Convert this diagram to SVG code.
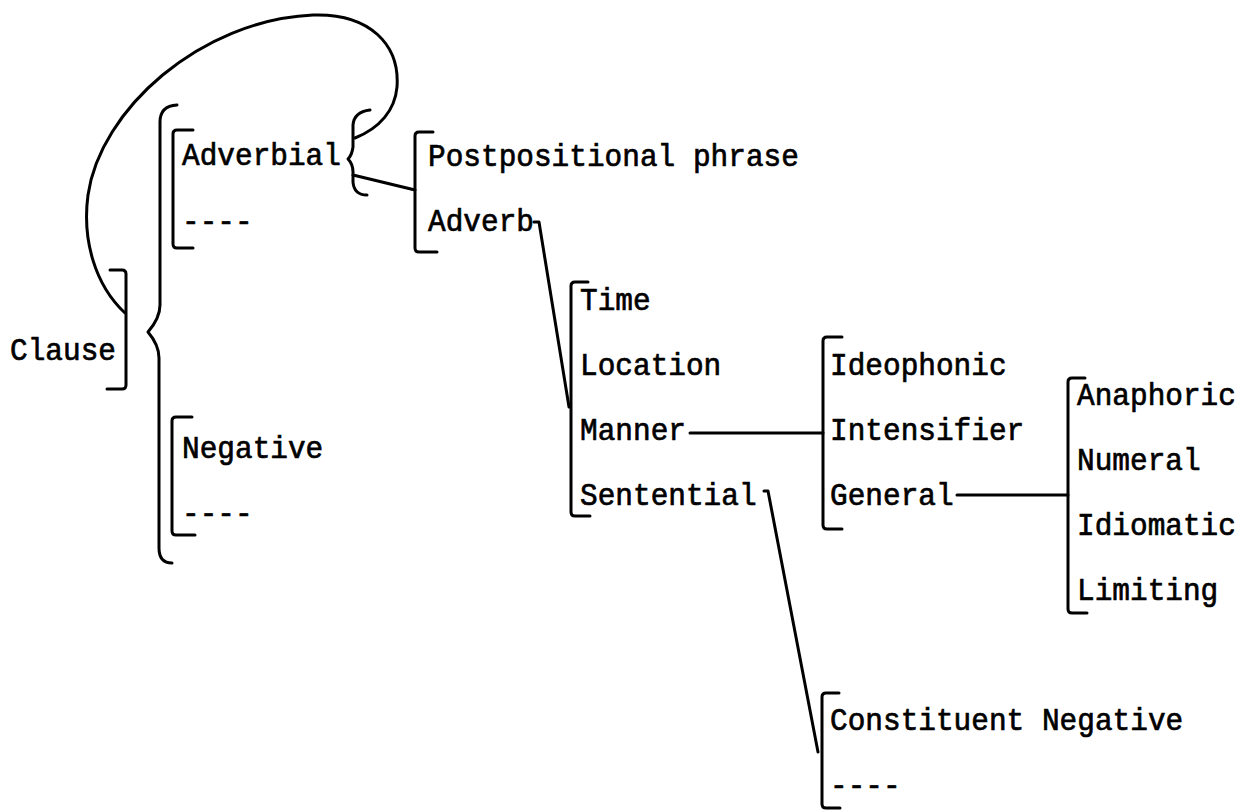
<svg xmlns="http://www.w3.org/2000/svg" width="1251" height="811" viewBox="0 0 1251 811">
  <style>
    /* monospaced typewriter-style labels, slightly narrowed to a 17.6px pitch */
    .t { font-family: "Liberation Mono", "DejaVu Sans Mono", monospace; font-size: 32px; fill: #000; stroke: #000; stroke-width: 0.7; stroke-linejoin: round; }
    .br { fill: none; stroke: #000; stroke-width: 3; stroke-linecap: round; stroke-linejoin: round; }
    .cn { fill: none; stroke: #000; stroke-width: 3; stroke-linecap: round; stroke-linejoin: round; }
  </style>
  <rect width="1251" height="811" fill="#fff"/>

  <!-- Clause -->
  <g id="clause">
    <text class="t" transform="translate(10 360) scale(0.92 1)">Clause</text>
    <path class="br" d="M110,270 L122,270 Q126,270 126,274 L126,385 Q126,389 122,389 L107,389"/>
  </g>

  <!-- Brace grouping the clause constituents -->
  <g id="clause-brace">
    <path class="br" d="M177,105 Q160,106 160,122 L160,305 Q160,318 148,332 Q159,345 159,358 L159,548 Q159,563 172,563"/>
  </g>

  <!-- Adverbial and its blank slot -->
  <g id="adverbial">
    <path class="br" d="M193,130 L177,130 Q173,130 173,134 L173,244 Q173,248 177,248 L193,248"/>
    <text class="t" transform="translate(182 165) scale(0.92 1)">Adverbial</text>
    <text class="t" transform="translate(182 231) scale(0.92 1)">----</text>
    <path class="br" d="M370,110 Q354,112 353,125 L353,147 Q352,155 348,159 Q353,164 353,172 L353,182 Q354,195 367,195"/>
  </g>

  <!-- Negative and its blank slot -->
  <g id="negative">
    <path class="br" d="M192,417 L176,417 Q172,417 172,421 L172,531 Q172,535 176,535 L195,535"/>
    <text class="t" transform="translate(182 458) scale(0.92 1)">Negative</text>
    <text class="t" transform="translate(182 523) scale(0.92 1)">----</text>
  </g>

  <!-- Postpositional phrase, Adverb -->
  <g id="adverbial-forms">
    <path class="br" d="M433,132 L419,132 Q415,132 415,136 L415,248 Q415,252 419,252 L437,252"/>
    <text class="t" transform="translate(428 166) scale(0.92 1)">Postpositional phrase</text>
    <text class="t" transform="translate(428 231) scale(0.92 1)">Adverb</text>
  </g>

  <!-- Adverb types -->
  <g id="adverb-types">
    <path class="br" d="M588,282 L575,282 Q571,282 571,286 L571,512 Q571,516 575,516 L590,516"/>
    <text class="t" transform="translate(580 310) scale(0.92 1)">Time</text>
    <text class="t" transform="translate(580 375) scale(0.92 1)">Location</text>
    <text class="t" transform="translate(580 440) scale(0.92 1)">Manner</text>
    <text class="t" transform="translate(580 505) scale(0.92 1)">Sentential</text>
  </g>

  <!-- Manner types -->
  <g id="manner-types">
    <path class="br" d="M842,337 L827,337 Q823,337 823,341 L823,525 Q823,529 827,529 L842,529"/>
    <text class="t" transform="translate(830 375) scale(0.92 1)">Ideophonic</text>
    <text class="t" transform="translate(830 440) scale(0.92 1)">Intensifier</text>
    <text class="t" transform="translate(830 505) scale(0.92 1)">General</text>
  </g>

  <!-- General types -->
  <g id="general-types">
    <path class="br" d="M1085,378 L1072,378 Q1068,378 1068,382 L1068,609 Q1068,613 1072,613 L1087,613"/>
    <text class="t" transform="translate(1077 405) scale(0.92 1)">Anaphoric</text>
    <text class="t" transform="translate(1077 470) scale(0.92 1)">Numeral</text>
    <text class="t" transform="translate(1077 535) scale(0.92 1)">Idiomatic</text>
    <text class="t" transform="translate(1077 600) scale(0.92 1)">Limiting</text>
  </g>

  <!-- Sentential types -->
  <g id="sentential-types">
    <path class="br" d="M839,693 L826,693 Q822,693 822,697 L822,804 Q822,808 826,808 L840,808"/>
    <text class="t" transform="translate(830 730) scale(0.92 1)">Constituent Negative</text>
    <text class="t" transform="translate(830 795) scale(0.92 1)">----</text>
  </g>

  <!-- Connectors -->
  <g id="connectors">
    <!-- loop from Clause back to the Adverbial brace -->
    <path class="cn" d="M125,313 C95,285 82,240 88,195 C100,110 200,20 313,15 C370,13 400,45 397,87 C395,110 380,128 355,138"/>
    <line class="cn" x1="353" y1="175" x2="415" y2="190"/>
    <path class="cn" d="M534,222 L539,222 L569,407"/>
    <line class="cn" x1="690" y1="433" x2="823" y2="433"/>
    <line class="cn" x1="957" y1="495" x2="1068" y2="495"/>
    <path class="cn" d="M764,491 L768,491 L818,752"/>
  </g>
</svg>
